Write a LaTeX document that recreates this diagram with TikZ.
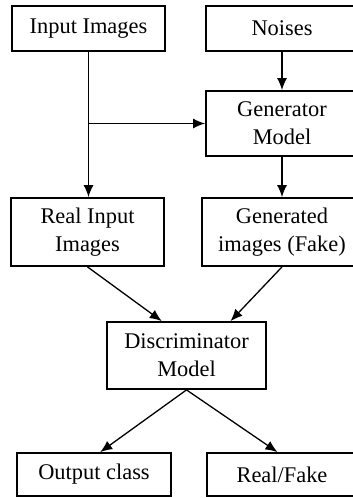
\documentclass[tikz,border=0pt]{standalone}
\usepackage{fontspec}
\setmainfont{Liberation Serif}
\usetikzlibrary{arrows.meta,calc}
\begin{document}
\begin{tikzpicture}[x=0.5pt,y=-0.5pt,
  box/.style={draw, line width=0.9pt, inner sep=0pt, align=center, font=\fontsize{11.2}{14}\selectfont},
  arr/.style={line width=0.65pt, -{Latex[length=6pt,width=5pt]}}]
\useasboundingbox (0,0) rectangle (353,498);
\clip (0,0) rectangle (353,498);
\fill[white] (0,0) rectangle (353,498);
\node[box, minimum width=76.5pt, minimum height=22.5pt] (in) at (88.5,28.5) {Input Images};
\node[box, minimum width=76pt, minimum height=22.5pt] (noise) at (282,28.5) {Noises};
\node[box, minimum width=76pt, minimum height=32.5pt] (gen) at (282,123.5) {Generator\\Model};
\node[box, minimum width=76.5pt, minimum height=34pt] (real) at (87.5,232) {Real Input\\Images};
\node[box, minimum width=80pt, minimum height=34pt] (fake) at (282,232) {Generated\\images (Fake)};
\node[box, minimum width=79.5pt, minimum height=33.5pt] (disc) at (186.5,355.5) {Discriminator\\Model};
\node[box, minimum width=77pt, minimum height=21.5pt] (out) at (94,474.5) {Output class};
\node[box, minimum width=75pt, minimum height=21.5pt] (rf) at (282,474.5) {Real/Fake};
\coordinate (br) at (in.south |- gen.west);
\draw[arr] (in.south) -- (in.south |- real.north);
\draw[arr] (br) -- (gen.west);
\draw[arr] (noise.south) -- (gen.north);
\draw[arr] (gen.south) -- (fake.north);
\draw[arr] (real.south) -- ($(disc.north west)!0.346!(disc.north east)$);
\draw[arr] (fake.south) -- ($(disc.north west)!0.774!(disc.north east)$);
\draw[arr] (disc.south) -- ($(out.north west)!0.54!(out.north east)$);
\draw[arr] (disc.south) -- ($(rf.north west)!0.47!(rf.north east)$);
\end{tikzpicture}
\end{document}
